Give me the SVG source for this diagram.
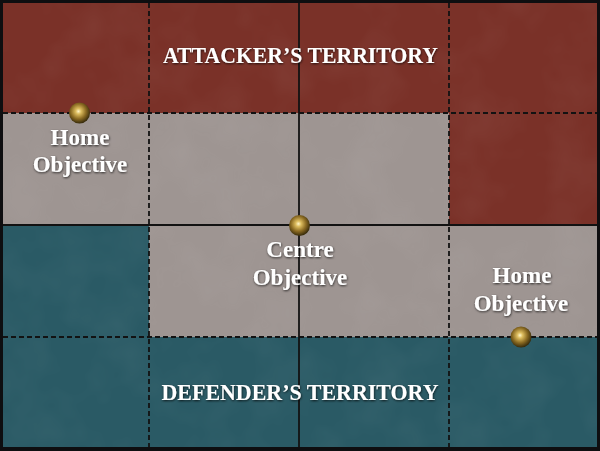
<svg xmlns="http://www.w3.org/2000/svg" width="600" height="451" viewBox="0 0 600 451">
<defs>
<style>
.red{fill:#7a3128}
.grey{fill:#9e9592}
.teal{fill:#2a5a65}
.dash{stroke:#121212;stroke-width:1.8;stroke-dasharray:5 3;fill:none}
.solid{stroke:#121212;stroke-width:1.8;fill:none}
.lbl{font-family:"Liberation Serif","Times New Roman",serif;font-weight:bold;fill:#ffffff;text-anchor:middle;filter:url(#sh)}
.title{font-size:23px}
.obj{font-size:23px}
</style>
<filter id="sh" x="-20%" y="-40%" width="140%" height="180%">
<feDropShadow dx="0.5" dy="1" stdDeviation="1.2" flood-color="#000" flood-opacity="0.75"/>
</filter>
<filter id="tex" x="0" y="0" width="100%" height="100%">
<feTurbulence type="fractalNoise" baseFrequency="0.02" numOctaves="3" seed="4" result="n"/>
<feColorMatrix in="n" type="matrix" values="0 0 0 0 1  0 0 0 0 1  0 0 0 0 1  0 0 0 0.5 -0.2"/>
</filter>
<radialGradient id="brass" cx="0.45" cy="0.42" r="0.6">
<stop offset="0" stop-color="#fff6c8"/>
<stop offset="0.22" stop-color="#dcbc5e"/>
<stop offset="0.6" stop-color="#8a6a22"/>
<stop offset="1" stop-color="#2e2408"/>
</radialGradient>
</defs>
<rect x="0" y="0" width="600" height="451" fill="#0e0e10"/>
<g id="zones">
<rect class="red" x="3" y="3" width="594" height="110"/>
<rect class="grey" x="3" y="113" width="446" height="112"/>
<rect class="red" x="449" y="113" width="148" height="112"/>
<rect class="teal" x="3" y="225" width="146" height="112"/>
<rect class="grey" x="149" y="225" width="448" height="112"/>
<rect class="teal" x="3" y="337" width="594" height="110"/>
<rect x="3" y="3" width="594" height="444" filter="url(#tex)" opacity="0.18"/>
</g>
<g id="connectors">
<line class="dash" x1="149" y1="3" x2="149" y2="447"/>
<line class="dash" x1="449" y1="3" x2="449" y2="447"/>
<line class="dash" x1="3" y1="113" x2="597" y2="113"/>
<line class="dash" x1="3" y1="337" x2="597" y2="337"/>
<line class="solid" x1="299" y1="3" x2="299" y2="447"/>
<line class="solid" x1="3" y1="225" x2="597" y2="225"/>
</g>
<g id="attacker-territory">
<text class="lbl title" x="300.5" y="63" textLength="275" lengthAdjust="spacingAndGlyphs">ATTACKER’S TERRITORY</text>
</g>
<g id="defender-territory">
<text class="lbl title" x="300" y="400" textLength="277" lengthAdjust="spacingAndGlyphs">DEFENDER’S TERRITORY</text>
</g>
<g id="home-objective-attacker">
<circle cx="79.5" cy="113" r="10.5" fill="url(#brass)"/>
<text class="lbl obj" x="80" y="145">Home</text>
<text class="lbl obj" x="80" y="172">Objective</text>
</g>
<g id="centre-objective">
<circle cx="299.5" cy="225.5" r="10.5" fill="url(#brass)"/>
<text class="lbl obj" x="300" y="257">Centre</text>
<text class="lbl obj" x="300" y="285">Objective</text>
</g>
<g id="home-objective-defender">
<circle cx="521" cy="337" r="10.5" fill="url(#brass)"/>
<text class="lbl obj" x="522" y="283">Home</text>
<text class="lbl obj" x="521" y="311">Objective</text>
</g>
</svg>
